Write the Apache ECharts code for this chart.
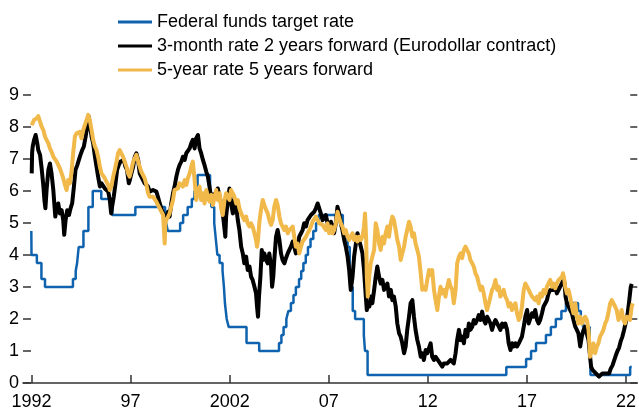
<!DOCTYPE html>
<html>
<head>
<meta charset="utf-8">
<script src="https://cdn.jsdelivr.net/npm/echarts@6/dist/echarts.min.js"></script>
<style>
html,body{margin:0;padding:0;background:#fff;}
#chart{width:639px;height:411px;}
</style>
</head>
<body>
<div id="chart"></div>
<script>
// ---- Data (decimal year, per cent) ----
const seriesNames = [
  'Federal funds target rate',
  '3-month rate 2 years forward (Eurodollar contract)',
  '5-year rate 5 years forward'
];
const xTickValues = [1992, 1997, 2002, 2007, 2012, 2017, 2022];
const xTickLabels = ['1992', '97', '2002', '07', '12', '17', '22'];

// Federal funds target rate (upper bound after 2008), value in force from the given date
const fedFunds = [
  [1991.99,4.75],[1992.0,4.0],[1992.27,3.75],[1992.50,3.25],[1992.68,3.0],
  [1994.09,3.25],[1994.23,3.5],[1994.30,3.75],[1994.38,4.25],[1994.62,4.75],[1994.87,5.5],
  [1995.09,6.0],[1995.52,5.75],[1995.97,5.5],[1996.08,5.25],[1997.24,5.5],
  [1998.74,5.25],[1998.79,5.0],[1998.88,4.75],[1999.50,5.0],[1999.65,5.25],[1999.88,5.5],
  [2000.09,5.75],[2000.22,6.0],[2000.38,6.5],[2001.01,6.0],[2001.08,5.5],[2001.22,5.0],
  [2001.30,4.5],[2001.38,4.0],[2001.49,3.75],[2001.64,3.5],[2001.71,3.0],[2001.76,2.5],
  [2001.85,2.0],[2001.95,1.75],[2002.85,1.25],[2003.49,1.0],[2004.49,1.25],[2004.61,1.5],
  [2004.72,1.75],[2004.86,2.0],[2004.96,2.25],[2005.09,2.5],[2005.22,2.75],[2005.34,3.0],
  [2005.50,3.25],[2005.61,3.5],[2005.72,3.75],[2005.84,4.0],[2005.95,4.25],[2006.08,4.5],
  [2006.22,4.75],[2006.36,5.0],[2006.49,5.25],[2007.71,4.75],[2007.83,4.5],[2007.95,4.25],
  [2008.06,3.5],[2008.08,3.0],[2008.21,2.25],[2008.33,2.0],[2008.77,1.5],[2008.83,1.0],
  [2008.96,0.25],[2015.96,0.5],[2016.96,0.75],[2017.21,1.0],[2017.46,1.25],[2017.96,1.5],
  [2018.21,1.75],[2018.46,2.0],[2018.74,2.25],[2018.97,2.5],[2019.58,2.25],[2019.72,2.0],
  [2019.83,1.75],[2020.17,1.25],[2020.21,0.25],[2022.21,0.5],[2022.29,0.5]
];

// 3-month rate 2 years forward (Eurodollar contract)
const eurodollarFwd = [
  [1992.01,6.55],[1992.03,7.2],[1992.06,7.39],[1992.13,7.6],[1992.21,7.75],[1992.29,7.49],[1992.34,7.28],[1992.43,7.13],
  [1992.51,6.71],[1992.60,6.14],[1992.65,5.72],[1992.70,5.46],[1992.76,6.03],[1992.85,6.66],[1992.93,6.86],[1993.01,6.55],
  [1993.10,6.03],[1993.15,5.61],[1993.20,5.2],[1993.27,5.46],[1993.35,5.61],[1993.43,5.3],[1993.52,5.4],[1993.60,5.09],
  [1993.65,4.63],[1993.72,5.09],[1993.80,5.4],[1993.89,5.25],[1993.97,5.46],[1994.05,5.61],[1994.14,6.14],[1994.22,6.66],
  [1994.31,6.81],[1994.39,6.97],[1994.47,7.13],[1994.56,7.28],[1994.64,7.39],[1994.73,7.7],[1994.81,8.01],[1994.88,8.34],
  [1994.94,8.11],[1995.03,7.7],[1995.11,7.49],[1995.20,7.07],[1995.28,6.76],[1995.36,6.45],[1995.45,6.14],[1995.53,6.24],
  [1995.61,6.29],[1995.70,6.08],[1995.78,6.14],[1995.87,5.98],[1995.95,5.72],[1996.02,5.3],[1996.08,5.56],[1996.15,5.82],
  [1996.24,6.24],[1996.32,6.66],[1996.40,6.81],[1996.49,6.92],[1996.57,6.86],[1996.66,6.97],[1996.74,6.76],[1996.82,6.66],
  [1996.91,6.24],[1996.96,6.34],[1997.04,6.55],[1997.13,6.76],[1997.21,7.07],[1997.29,7.18],[1997.38,6.97],[1997.46,6.55],
  [1997.54,6.45],[1997.63,6.4],[1997.71,6.24],[1997.80,6.29],[1997.88,6.14],[1997.96,5.98],[1998.05,5.93],[1998.13,6.03],
  [1998.22,6.03],[1998.30,5.98],[1998.38,5.82],[1998.47,5.61],[1998.55,5.46],[1998.64,5.3],[1998.72,5.25],[1998.80,5.15],
  [1998.89,5.35],[1998.97,5.2],[1999.05,5.61],[1999.14,5.93],[1999.22,6.14],[1999.31,6.45],[1999.39,6.66],[1999.47,6.81],
  [1999.56,6.92],[1999.64,7.07],[1999.73,6.97],[1999.81,7.18],[1999.89,7.23],[1999.98,7.33],[2000.06,7.49],[2000.14,7.6],
  [2000.23,7.33],[2000.31,7.65],[2000.40,7.75],[2000.48,7.33],[2000.56,7.18],[2000.65,6.97],[2000.73,6.81],[2000.82,6.6],
  [2000.90,6.45],[2000.98,6.14],[2001.07,5.77],[2001.15,5.88],[2001.24,5.82],[2001.32,5.93],[2001.40,6.08],[2001.49,6.14],
  [2001.57,5.61],[2001.65,5.3],[2001.70,5.04],[2001.78,4.57],[2001.82,5.2],[2001.91,5.72],[2001.99,6.08],[2002.07,5.61],
  [2002.16,5.3],[2002.24,5.72],[2002.33,5.51],[2002.41,5.09],[2002.49,4.78],[2002.58,4.26],[2002.66,4.05],[2002.74,3.74],
  [2002.83,3.95],[2002.91,3.53],[2003.00,3.64],[2003.08,3.32],[2003.16,3.22],[2003.25,3.01],[2003.33,2.8],[2003.38,2.39],
  [2003.43,2.07],[2003.48,2.7],[2003.55,3.32],[2003.62,4.16],[2003.68,3.84],[2003.75,4.05],[2003.84,3.84],[2003.92,3.74],
  [2004.00,4.05],[2004.09,3.64],[2004.14,3.01],[2004.20,3.32],[2004.25,3.84],[2004.34,4.57],[2004.42,4.78],[2004.51,4.47],
  [2004.59,4.05],[2004.67,3.84],[2004.76,3.74],[2004.84,3.9],[2004.93,4.05],[2005.01,4.16],[2005.09,4.26],[2005.18,4.42],
  [2005.26,4.26],[2005.34,4.05],[2005.43,4.26],[2005.51,4.57],[2005.60,4.68],[2005.68,4.78],[2005.76,4.99],[2005.85,4.89],
  [2005.93,5.09],[2006.02,5.04],[2006.10,5.25],[2006.18,5.3],[2006.27,5.35],[2006.35,5.46],[2006.44,5.61],[2006.52,5.56],
  [2006.60,5.3],[2006.69,5.09],[2006.77,5.14],[2006.85,5.25],[2006.94,5.2],[2007.02,4.78],[2007.11,5.04],[2007.19,4.89],
  [2007.27,4.68],[2007.36,5.0],[2007.44,5.51],[2007.53,5.3],[2007.61,4.99],[2007.69,4.78],[2007.78,4.47],[2007.86,4.26],
  [2007.95,3.95],[2008.03,3.53],[2008.11,2.91],[2008.20,3.32],[2008.28,3.95],[2008.37,4.36],[2008.45,4.68],[2008.53,4.47],
  [2008.62,4.26],[2008.70,4.05],[2008.78,3.53],[2008.87,2.7],[2008.92,2.28],[2008.99,2.49],[2009.05,2.39],[2009.12,2.7],
  [2009.20,2.49],[2009.29,2.91],[2009.37,3.32],[2009.45,3.64],[2009.54,3.32],[2009.62,3.11],[2009.71,3.22],[2009.79,2.91],
  [2009.87,3.0],[2009.96,3.11],[2010.04,2.7],[2010.13,2.91],[2010.21,2.59],[2010.29,2.7],[2010.38,2.39],[2010.46,1.86],
  [2010.55,1.55],[2010.63,1.45],[2010.71,1.24],[2010.80,0.93],[2010.88,1.14],[2010.96,1.66],[2011.05,2.07],[2011.13,2.49],
  [2011.22,2.59],[2011.30,2.07],[2011.38,1.66],[2011.47,1.34],[2011.55,1.14],[2011.64,0.82],[2011.72,0.93],[2011.80,0.72],
  [2011.89,1.03],[2011.97,0.93],[2012.06,0.93],[2012.14,1.24],[2012.22,0.82],[2012.31,0.72],[2012.39,0.82],[2012.48,0.77],
  [2012.56,0.67],[2012.64,0.61],[2012.73,0.51],[2012.81,0.61],[2012.89,0.67],[2012.98,0.61],[2013.06,0.56],[2013.15,0.72],
  [2013.23,0.67],[2013.31,0.61],[2013.40,0.93],[2013.48,1.34],[2013.57,1.66],[2013.65,1.34],[2013.73,1.45],[2013.82,1.24],
  [2013.90,1.66],[2013.99,1.45],[2014.07,1.86],[2014.15,1.66],[2014.24,1.76],[2014.32,1.97],[2014.40,1.86],[2014.49,1.97],
  [2014.57,2.12],[2014.66,1.97],[2014.74,2.23],[2014.82,1.97],[2014.91,1.86],[2014.99,2.07],[2015.08,1.97],[2015.16,1.86],
  [2015.24,1.66],[2015.33,1.86],[2015.41,1.97],[2015.50,1.86],[2015.58,1.76],[2015.66,1.66],[2015.75,1.86],[2015.83,1.76],
  [2015.91,1.86],[2016.00,1.66],[2016.08,1.24],[2016.17,1.03],[2016.25,1.24],[2016.33,1.14],[2016.42,1.24],[2016.50,1.14],
  [2016.59,1.24],[2016.67,1.24],[2016.75,1.45],[2016.84,1.76],[2016.92,2.07],[2017.01,2.28],[2017.09,1.86],[2017.17,1.86],
  [2017.26,2.18],[2017.34,2.07],[2017.42,2.28],[2017.51,1.97],[2017.59,1.86],[2017.67,1.97],[2017.76,2.18],[2017.84,2.39],
  [2017.93,2.49],[2018.01,2.59],[2018.09,2.8],[2018.18,2.91],[2018.26,2.96],[2018.35,2.91],[2018.43,3.01],[2018.51,2.8],
  [2018.60,2.91],[2018.68,3.01],[2018.77,3.06],[2018.85,3.22],[2018.90,3.11],[2018.95,2.7],[2019.02,2.49],[2019.10,2.39],
  [2019.18,2.28],[2019.27,2.18],[2019.35,1.97],[2019.44,1.76],[2019.52,1.66],[2019.60,1.55],[2019.69,1.14],[2019.77,1.45],
  [2019.86,1.66],[2019.94,1.76],[2020.02,1.55],[2020.11,1.34],[2020.19,0.82],[2020.24,0.51],[2020.31,0.41],[2020.39,0.35],
  [2020.48,0.3],[2020.56,0.25],[2020.64,0.2],[2020.73,0.25],[2020.81,0.3],[2020.90,0.25],[2020.98,0.3],[2021.06,0.35],
  [2021.15,0.3],[2021.23,0.45],[2021.32,0.55],[2021.40,0.7],[2021.48,0.85],[2021.57,1.0],[2021.65,1.1],[2021.73,1.3],
  [2021.82,1.45],[2021.90,1.65],[2021.99,1.9],[2022.07,2.1],[2022.15,2.5],[2022.24,3.0],[2022.29,3.1]
];

// 5-year rate 5 years forward
const fiveYearFwd = [
  [1992.01,8.06],[1992.13,8.22],[1992.26,8.27],[1992.34,8.34],[1992.43,8.17],[1992.51,8.01],[1992.60,7.9],[1992.68,7.7],
  [1992.76,7.6],[1992.85,7.49],[1992.93,7.33],[1993.01,7.23],[1993.10,7.07],[1993.18,7.02],[1993.27,6.92],[1993.35,6.97],
  [1993.43,6.71],[1993.52,6.55],[1993.60,6.4],[1993.69,6.19],[1993.77,6.03],[1993.85,6.34],[1993.94,6.24],[1994.02,6.6],
  [1994.10,7.18],[1994.19,7.7],[1994.27,7.8],[1994.36,7.75],[1994.44,7.85],[1994.52,7.65],[1994.61,7.9],[1994.69,8.06],
  [1994.78,8.22],[1994.86,8.38],[1994.94,8.22],[1995.03,7.9],[1995.11,7.6],[1995.20,7.39],[1995.28,7.28],[1995.36,7.07],
  [1995.45,6.76],[1995.53,6.55],[1995.61,6.5],[1995.70,6.4],[1995.78,6.29],[1995.87,6.19],[1995.95,6.03],[1996.03,6.14],
  [1996.12,6.45],[1996.20,6.66],[1996.29,6.92],[1996.37,7.18],[1996.45,7.28],[1996.54,7.23],[1996.62,7.07],[1996.70,6.92],
  [1996.79,6.76],[1996.87,6.55],[1996.95,6.45],[1997.04,6.66],[1997.13,6.92],[1997.21,6.86],[1997.29,7.13],[1997.38,7.07],
  [1997.46,6.76],[1997.54,6.6],[1997.63,6.55],[1997.71,6.4],[1997.80,6.19],[1997.88,5.93],[1997.96,5.82],[1998.05,5.77],
  [1998.13,5.82],[1998.22,5.77],[1998.30,5.67],[1998.38,5.56],[1998.47,5.46],[1998.55,5.51],[1998.64,5.25],[1998.72,4.36],
  [1998.75,4.99],[1998.80,5.09],[1998.89,5.2],[1998.97,5.3],[1999.05,5.51],[1999.14,5.72],[1999.22,6.03],[1999.31,6.03],
  [1999.39,6.08],[1999.47,6.24],[1999.56,6.24],[1999.64,6.14],[1999.73,6.34],[1999.81,6.19],[1999.89,6.4],[1999.98,6.55],
  [2000.06,6.76],[2000.14,6.92],[2000.23,6.34],[2000.31,5.72],[2000.40,6.03],[2000.48,6.14],[2000.56,5.72],[2000.65,5.93],
  [2000.73,5.61],[2000.82,6.03],[2000.90,5.82],[2000.98,5.67],[2001.07,5.88],[2001.15,5.56],[2001.24,5.82],[2001.32,6.03],
  [2001.40,5.72],[2001.49,5.93],[2001.57,5.46],[2001.65,5.25],[2001.74,5.72],[2001.82,5.93],[2001.91,5.82],[2001.99,5.72],
  [2002.07,6.03],[2002.16,5.98],[2002.24,5.82],[2002.33,5.61],[2002.41,5.72],[2002.49,5.46],[2002.58,5.3],[2002.66,5.25],
  [2002.74,5.09],[2002.83,5.2],[2002.91,4.99],[2003.00,4.89],[2003.08,4.99],[2003.16,4.89],[2003.25,4.68],[2003.33,4.47],
  [2003.38,4.26],[2003.43,4.47],[2003.50,5.04],[2003.58,5.41],[2003.67,5.72],[2003.75,5.56],[2003.84,5.41],[2003.92,5.3],
  [2004.00,5.09],[2004.09,4.94],[2004.17,5.09],[2004.25,5.51],[2004.34,5.72],[2004.42,5.56],[2004.51,5.2],[2004.59,4.99],
  [2004.67,4.89],[2004.76,4.78],[2004.84,4.89],[2004.93,4.68],[2005.01,4.78],[2005.09,4.73],[2005.18,4.89],[2005.26,4.57],
  [2005.34,4.26],[2005.43,4.36],[2005.51,4.05],[2005.60,4.26],[2005.68,4.42],[2005.76,4.47],[2005.85,4.57],[2005.93,4.68],
  [2006.02,4.78],[2006.10,4.89],[2006.18,5.04],[2006.27,5.09],[2006.35,5.2],[2006.44,5.09],[2006.52,4.99],[2006.60,5.04],
  [2006.69,4.94],[2006.77,4.89],[2006.85,4.78],[2006.94,4.99],[2007.02,4.68],[2007.11,4.89],[2007.19,4.68],[2007.27,4.78],
  [2007.36,4.99],[2007.44,5.35],[2007.53,5.15],[2007.61,4.99],[2007.69,4.89],[2007.78,4.68],[2007.86,4.78],[2007.95,4.57],
  [2008.03,4.47],[2008.11,4.57],[2008.20,4.68],[2008.28,4.47],[2008.37,4.57],[2008.45,4.42],[2008.53,4.57],[2008.62,4.47],
  [2008.70,4.57],[2008.78,4.89],[2008.83,5.3],[2008.89,4.47],[2008.92,3.32],[2008.97,2.7],[2009.04,3.32],[2009.12,3.74],
  [2009.20,3.95],[2009.29,4.16],[2009.37,4.99],[2009.45,4.78],[2009.54,4.36],[2009.62,4.16],[2009.71,4.57],[2009.79,4.36],
  [2009.87,4.68],[2009.96,4.89],[2010.04,4.57],[2010.13,4.99],[2010.21,5.2],[2010.29,5.09],[2010.38,4.78],[2010.46,4.47],
  [2010.55,4.26],[2010.63,3.84],[2010.71,4.05],[2010.80,4.26],[2010.88,4.57],[2010.96,4.78],[2011.05,5.04],[2011.13,4.89],
  [2011.22,4.57],[2011.30,4.68],[2011.38,4.36],[2011.47,4.16],[2011.55,3.95],[2011.64,3.43],[2011.72,2.91],[2011.80,3.0],
  [2011.89,2.91],[2011.97,3.22],[2012.06,3.53],[2012.14,3.38],[2012.22,3.53],[2012.31,2.91],[2012.39,2.59],[2012.48,2.28],
  [2012.56,2.7],[2012.64,3.01],[2012.73,2.8],[2012.81,2.91],[2012.89,2.7],[2012.98,3.01],[2013.06,3.22],[2013.15,3.01],
  [2013.23,2.91],[2013.31,2.49],[2013.40,2.91],[2013.48,3.74],[2013.57,3.95],[2013.65,4.05],[2013.73,3.9],[2013.82,4.16],
  [2013.90,4.26],[2013.99,4.31],[2014.07,4.05],[2014.15,3.84],[2014.24,3.74],[2014.32,3.64],[2014.40,3.43],[2014.49,3.32],
  [2014.57,3.11],[2014.66,2.91],[2014.74,3.01],[2014.82,2.8],[2014.91,2.49],[2014.99,2.28],[2015.08,2.49],[2015.16,2.7],
  [2015.24,2.91],[2015.33,3.01],[2015.41,3.22],[2015.50,2.91],[2015.58,3.01],[2015.66,2.7],[2015.75,2.8],[2015.83,2.91],
  [2015.91,2.7],[2016.00,2.59],[2016.08,2.39],[2016.17,2.49],[2016.25,2.28],[2016.33,2.39],[2016.42,2.49],[2016.50,2.18],
  [2016.59,1.97],[2016.67,2.07],[2016.75,2.39],[2016.84,2.91],[2016.92,3.11],[2017.01,3.01],[2017.09,2.91],[2017.17,2.8],
  [2017.26,2.7],[2017.34,2.75],[2017.42,2.59],[2017.51,2.7],[2017.59,2.49],[2017.67,2.8],[2017.76,2.7],[2017.84,2.91],
  [2017.93,2.8],[2018.01,3.01],[2018.09,3.11],[2018.18,3.22],[2018.26,3.01],[2018.35,3.11],[2018.43,2.96],[2018.51,3.11],
  [2018.60,3.22],[2018.68,3.17],[2018.77,3.32],[2018.82,3.43],[2018.88,3.27],[2018.93,3.01],[2019.02,2.8],[2019.10,2.91],
  [2019.18,2.7],[2019.27,2.39],[2019.35,2.18],[2019.44,2.49],[2019.52,2.07],[2019.60,1.86],[2019.69,2.07],[2019.77,1.86],
  [2019.86,1.97],[2019.94,2.07],[2020.02,1.97],[2020.11,1.66],[2020.19,0.82],[2020.27,1.03],[2020.36,1.24],[2020.44,0.93],
  [2020.53,1.14],[2020.61,1.24],[2020.69,1.45],[2020.78,1.55],[2020.86,1.66],[2020.95,1.86],[2021.03,1.97],[2021.11,2.18],
  [2021.20,2.49],[2021.28,2.59],[2021.37,2.49],[2021.45,2.39],[2021.53,2.28],[2021.62,1.97],[2021.70,2.07],[2021.78,2.28],
  [2021.87,1.97],[2021.95,1.86],[2022.04,2.07],[2022.12,2.07],[2022.20,1.97],[2022.29,2.39],[2022.34,2.49]
];

const colors = ['#0f63ae', '#000000', '#f1b84a'];
const FONT = '"Liberation Sans", Arial, Helvetica, sans-serif';

const chart = echarts.init(document.getElementById('chart'), null, {renderer: 'canvas'});
const tickStyle = {color: '#333', width: 1.5};

chart.setOption({
  animation: false,
  backgroundColor: '#fff',
  color: colors,
  textStyle: {fontFamily: FONT},
  legend: {
    orient: 'vertical',
    left: 113,
    top: 8,
    itemWidth: 34,
    itemHeight: 3,
    itemGap: 6,
    icon: 'rect',
    data: seriesNames,
    textStyle: {fontSize: 18, color: '#000', fontFamily: FONT, lineHeight: 18}
  },
  grid: {left: 23, right: 0, top: 95, bottom: 28, containLabel: false},
  xAxis: {
    type: 'value',
    min: 1991.57,
    max: 2022.57,
    axisLine: {show: true, lineStyle: {color: '#333', width: 1.5}},
    axisTick: {show: true, inside: true, length: 8, customValues: xTickValues, lineStyle: tickStyle},
    axisLabel: {
      customValues: xTickValues,
      formatter: function (v) { const i = xTickValues.indexOf(Math.round(v)); return i >= 0 ? xTickLabels[i] : ''; },
      fontSize: 18, color: '#000', margin: 10, fontFamily: FONT
    },
    splitLine: {show: false}
  },
  yAxis: [
    {
      type: 'value', min: 0, max: 9, interval: 1, position: 'left',
      axisLine: {show: false},
      axisTick: {show: true, inside: true, length: 8, lineStyle: tickStyle},
      axisLabel: {fontSize: 18, color: '#000', margin: 4, fontFamily: FONT},
      splitLine: {show: false}
    },
    {
      type: 'value', min: 0, max: 9, interval: 1, position: 'right',
      axisLine: {show: false},
      axisTick: {show: true, inside: true, length: 7, lineStyle: tickStyle},
      axisLabel: {show: false},
      splitLine: {show: false}
    }
  ],
  series: [
    {
      name: seriesNames[0], type: 'line', step: 'end', data: fedFunds,
      showSymbol: false, z: 2,
      lineStyle: {color: colors[0], width: 2.5}
    },
    {
      name: seriesNames[1], type: 'line', data: eurodollarFwd,
      showSymbol: false, z: 3,
      lineStyle: {color: colors[1], width: 4, join: 'round'}
    },
    {
      name: seriesNames[2], type: 'line', data: fiveYearFwd,
      showSymbol: false, z: 4,
      lineStyle: {color: colors[2], width: 4, join: 'round'}
    }
  ]
});
</script>
</body>
</html>
